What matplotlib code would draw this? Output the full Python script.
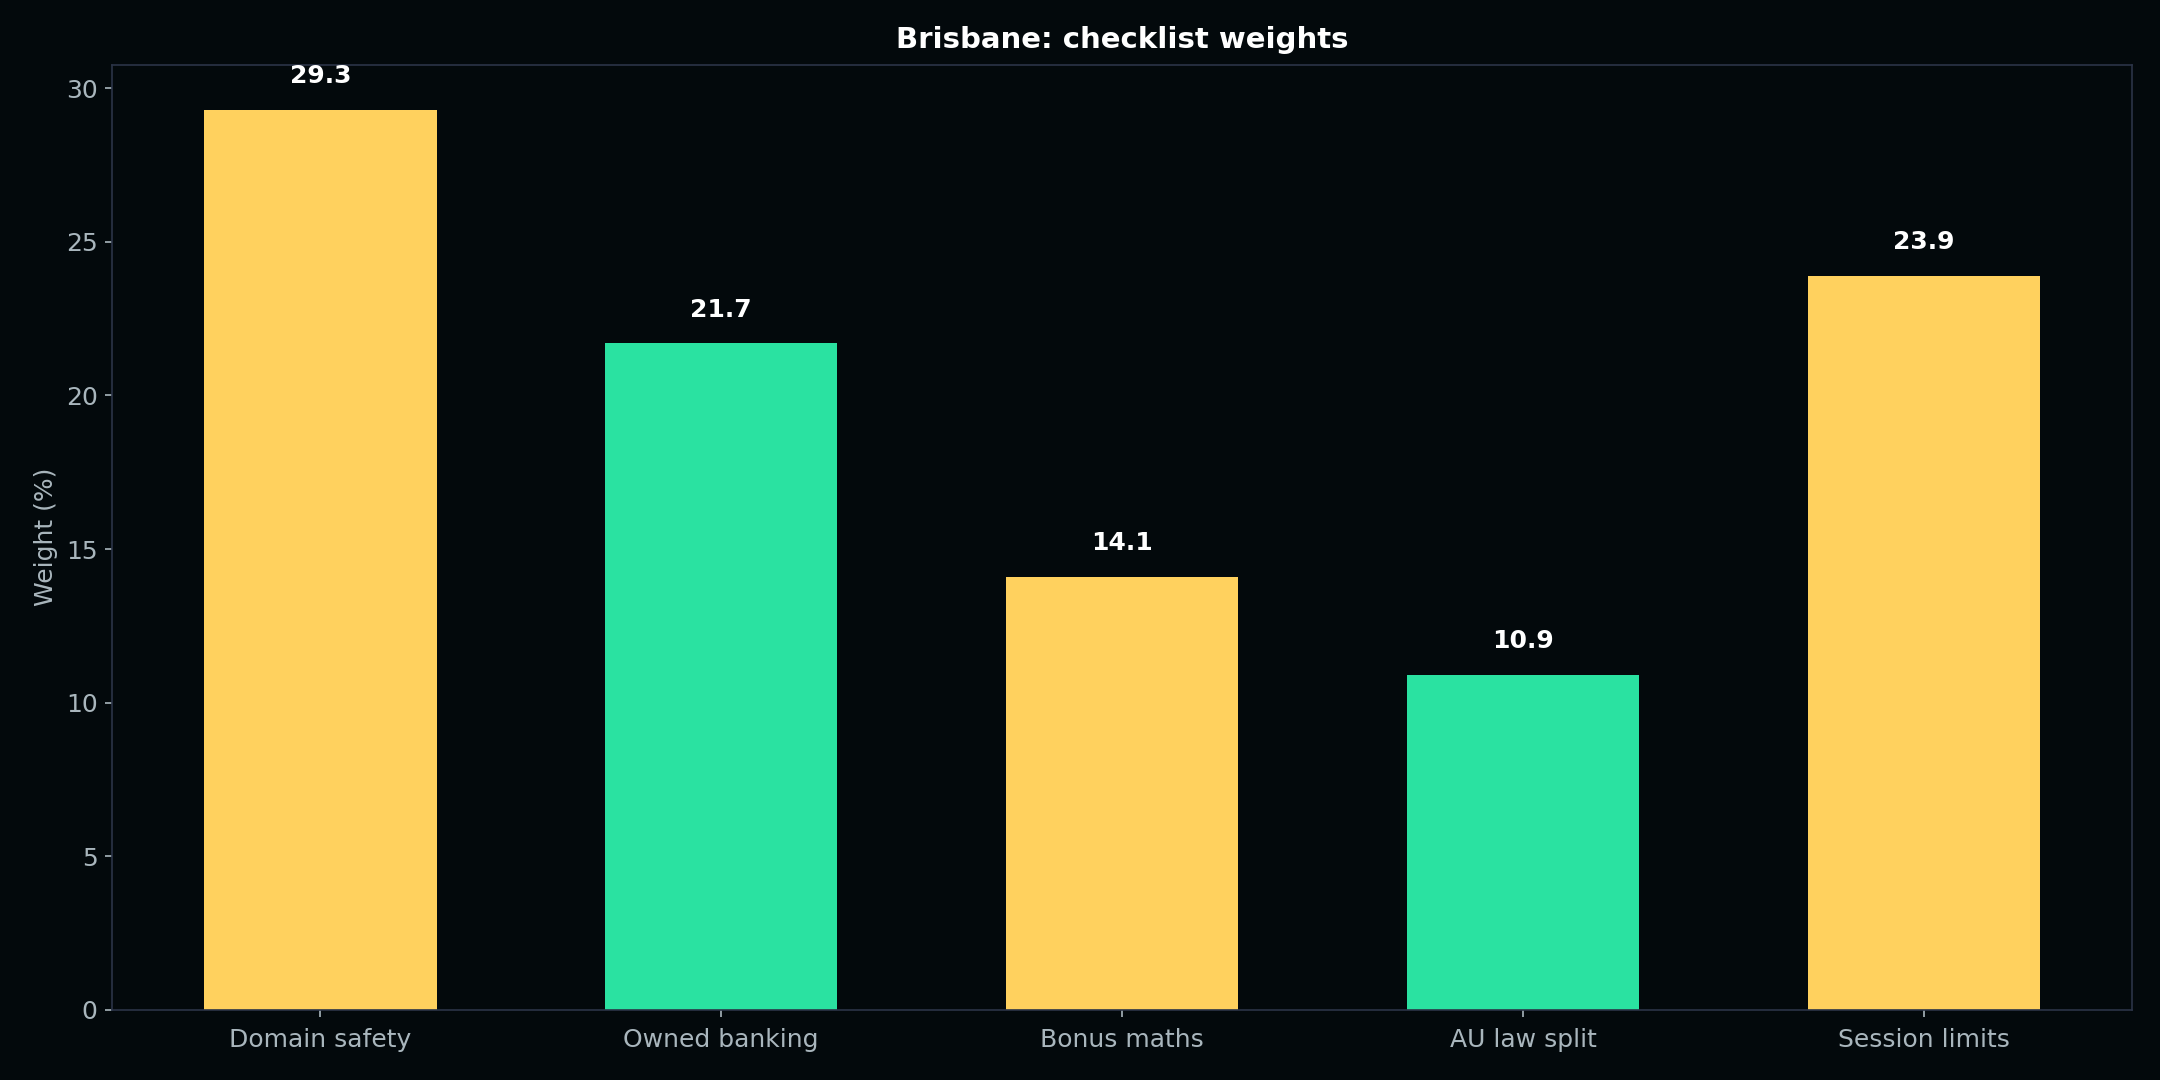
import matplotlib.pyplot as plt

categories = ["Domain safety", "Owned banking", "Bonus maths", "AU law split", "Session limits"]
weights = [29.3, 21.7, 14.1, 10.9, 23.9]
bar_colors = ["#ffd15e", "#2ae2a1", "#ffd15e", "#2ae2a1", "#ffd15e"]

BG = "#03090c"
TXT = "#a9b6bd"
EDGE = "#2b3447"

fig, ax = plt.subplots(figsize=(14.4, 7.2), dpi=150)
fig.patch.set_facecolor(BG)
ax.set_facecolor(BG)

bars = ax.bar(categories, weights, width=0.58, color=bar_colors)
for b, v in zip(bars, weights):
    ax.text(b.get_x() + b.get_width() / 2, v + 0.7, f"{v:.1f}",
            ha="center", va="bottom", color="white", fontsize=12, fontweight="bold")

ax.set_title("Brisbane: checklist weights", color="white", fontsize=14, fontweight="bold", pad=8)
ax.set_ylabel("Weight (%)", color=TXT, fontsize=12)
ax.tick_params(colors=TXT, labelsize=12)
ax.tick_params(axis="x", pad=5)
for s in ax.spines.values():
    s.set_color(EDGE)

fig.subplots_adjust(left=0.052, right=0.987, top=0.94, bottom=0.065)
fig.savefig("out.png", facecolor=BG)
